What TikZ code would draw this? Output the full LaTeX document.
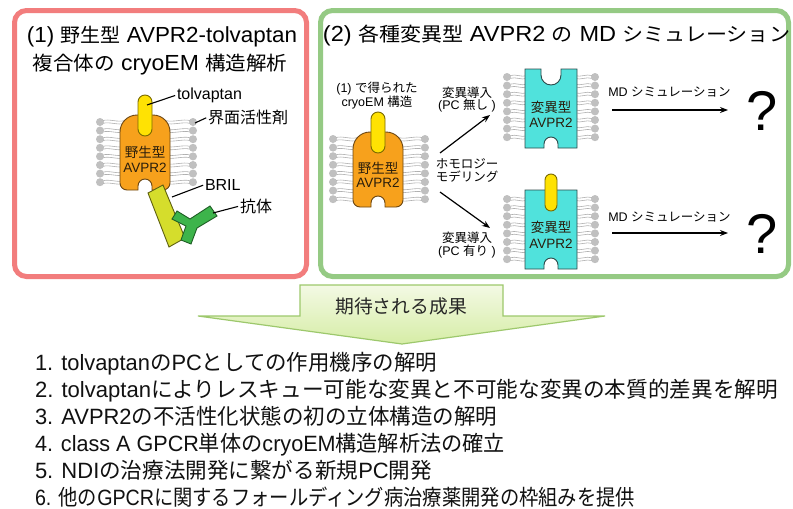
\documentclass[tikz,border=0pt]{standalone}
\usepackage{fontspec}
\usepackage{graphicx}
\setmainfont{Noto Sans CJK JP}
\newfontfamily\enN{Liberation Sans}
\newfontfamily\enT{Liberation Sans}[Scale=1.12]
\newfontfamily\enL{Liberation Sans}[Scale=1.02]
\newcommand\en[1]{{\encur #1}}
\let\encur\enN
\newcommand\fitw[2]{\resizebox{#1pt}{\height}{#2}}
\usetikzlibrary{arrows.meta}

\definecolor{boxred}{HTML}{F27D7D}
\definecolor{boxgreen}{HTML}{95CA84}
\definecolor{wtorange}{HTML}{F7A11C}
\definecolor{wtedge}{HTML}{6B4613}
\definecolor{rodyel}{HTML}{FFE203}
\definecolor{rodedge}{HTML}{7A6A00}
\definecolor{mutcyan}{HTML}{50E2DC}
\definecolor{mutedge}{HTML}{2E4A4A}
\definecolor{brilc}{HTML}{D5DD2C}
\definecolor{briledge}{HTML}{5E6010}
\definecolor{abc}{HTML}{3DB44B}
\definecolor{abedge}{HTML}{1F5F25}
\definecolor{lipidhead}{HTML}{C0C0C0}
\definecolor{lipidtail}{HTML}{B0B0B0}
\definecolor{arrtop}{HTML}{F3F9E4}
\definecolor{arrbot}{HTML}{D6EDA6}
\definecolor{arredge}{HTML}{9DC86C}
\definecolor{darklab}{HTML}{2A1E0C}
\definecolor{listtext}{HTML}{111111}

% a row set of lipids: left head x, left tail end, right tail end, right head x, first row y
\newcommand\lipidset[5]{%
  \foreach \i in {0,...,7}{%
    \pgfmathsetmacro\ly{#5+8.6*\i}%
    \draw[ltail] (#1+3,\ly-1.4) .. controls +(6,-2) and +(-6,2) .. (#2,\ly-1.4);
    \draw[ltail] (#1+3,\ly+1.4) .. controls +(6,-2) and +(-6,2) .. (#2,\ly+1.4);
    \draw[ltail] (#4-3,\ly-1.4) .. controls +(-6,-2) and +(6,2) .. (#3,\ly-1.4);
    \draw[ltail] (#4-3,\ly+1.4) .. controls +(-6,-2) and +(6,2) .. (#3,\ly+1.4);
    \fill[lhead] (#1,\ly) circle (4);
    \fill[lhead] (#4,\ly) circle (4);
  }}

% wild-type receptor body, local origin at top centre (y grows downward)
\newcommand\wtbody{%
  \draw[wt] (-8,0) arc[start angle=270,end angle=180,radius=17]
    -- (-25,68) arc[start angle=180,end angle=90,radius=7]
    -- (-7,75) -- (-7,71) arc[start angle=180,end angle=360,radius=7]
    -- (7,75) -- (18,75) arc[start angle=90,end angle=0,radius=7]
    -- (25,17) arc[start angle=0,end angle=-90,radius=17] -- cycle;
  \draw[rodst] (-7,-20) rectangle (7,21);}

% mutant receptor body with an empty pocket on top
\newcommand\mutopen{%
  \draw[mut] (-26,0) -- (-10,0) -- (-10,6) arc[start angle=180,end angle=0,radius=10]
    -- (10,0) -- (26,0) -- (26,79) -- (7,79) -- (7,75)
    arc[start angle=0,end angle=-180,radius=7] -- (-7,79) -- (-26,79) -- cycle;}

% mutant receptor body holding the chaperone
\newcommand\mutbound{%
  \draw[mut] (-26,0) -- (26,0) -- (26,79) -- (7,79) -- (7,75)
    arc[start angle=0,end angle=-180,radius=7] -- (-7,79) -- (-26,79) -- cycle;
  \draw[rodst, rounded corners=6pt] (-6,-16) rectangle (6,21);}

\begin{document}
\begin{tikzpicture}[x=1pt,y=-1pt,
  frame/.style={line width=5pt, rounded corners=12pt},
  ltail/.style={draw=lipidtail, line width=0.6pt},
  lhead/.style={fill=lipidhead},
  wt/.style={fill=wtorange, draw=wtedge, line width=0.9pt},
  rodst/.style={fill=rodyel, draw=rodedge, line width=0.9pt, rounded corners=7pt},
  mut/.style={fill=mutcyan, draw=mutedge, line width=0.9pt},
  lead/.style={line width=1.1pt, shorten >=2pt},
  flow/.style={line width=1.2pt, -{Stealth[length=8pt,width=6pt]}},
  txt/.style={inner sep=0pt, outer sep=0pt, anchor=base, text=black},
  note/.style={txt, font=\fontsize{12.5}{14}\selectfont},
  tag/.style={txt, anchor=base west, font=\fontsize{16}{19}\selectfont},
  inlab/.style={txt, font=\fontsize{13.5}{16}\selectfont, text=darklab},
  ttl/.style={txt, font=\fontsize{19.5}{23}\selectfont\let\encur\enT},
  res/.style={txt, anchor=base west, text=listtext,
    font=\fontsize{21.7}{26}\selectfont\let\encur\enL},
  qmark/.style={txt, font=\enN\fontsize{56}{60}\selectfont}]

\useasboundingbox (0,0) rectangle (793,509);
\fill[white] (0,0) rectangle (793,509);

% ---------- panel frames ----------
\draw[frame, draw=boxred] (14.5,10.5) rectangle (306.5,276.5);
\draw[frame, draw=boxgreen] (320.5,10.5) rectangle (788.5,276.5);

% ---------- panel (1) ----------
\node[ttl] (t1a) at (162,42.5) {\fitw{270}{\en{(1) }野生型\en{ AVPR2-tolvaptan}}};
\node[ttl] (t1b) at (160,70.5) {\fitw{255}{複合体の\en{ cryoEM }構造解析}};

\lipidset{100}{124}{166}{193}{122}
\begin{scope}[shift={(145,115)}] \wtbody \end{scope}
\node[inlab] (wt1a) at (145,157) {野生型};
\node[inlab] (wt1b) at (145,172) {\en{AVPR2}};

\draw[fill=brilc, draw=briledge, line width=0.9pt]
  (148,193) -- (163,185) -- (185,238) -- (169,247) -- cycle;
\draw[fill=abc, draw=abedge, line width=0.9pt]
  (172,219) -- (177,211) -- (190,219) -- (210,206) -- (217,216) -- (197,228)
  -- (191,244) -- (181,240) -- (186,226) -- cycle;

\node[tag] (tv) at (177,99) {\en{tolvaptan}};
\node[tag] (det) at (208,123) {界面活性剤};
\node[tag] (bril) at (205,190) {\en{BRIL}};
\node[tag] (ab) at (240,212) {抗体};
\coordinate (tvp) at (147,105);
\coordinate (detp) at (195,123);
\coordinate (brilp) at (172,197);
\coordinate (abp) at (213,213);
\draw[lead] (tvp) -- (tv.west);
\draw[lead] (detp) -- (det.west);
\draw[lead] (brilp) -- (bril.west);
\draw[lead] (abp) -- (ab.west);

% ---------- panel (2) ----------
\node[ttl] (t2) at (556.5,41.5)
  {\fitw{467}{\en{(2) }各種変異型\en{ AVPR2 }の\en{ MD }シミュレーション}};

\node[note] (src1) at (377,92.3) {\en{(1) }で得られた};
\node[note] (src2) at (377,106.8) {\en{cryoEM }構造};

\lipidset{333}{357}{399}{425}{139}
\begin{scope}[shift={(378,132)}] \wtbody \end{scope}
\node[inlab] (wt2a) at (378,173) {野生型};
\node[inlab] (wt2b) at (378,187) {\en{AVPR2}};

\node[note] (hm1) at (467,168.3) {ホモロジー};
\node[note] (hm2) at (467,181.3) {モデリング};
\coordinate (upS) at (440,153);
\coordinate (upE) at (490,115);
\coordinate (dnS) at (440,192);
\coordinate (dnE) at (490,228);
\draw[flow] (upS) -- (upE);
\draw[flow] (dnS) -- (dnE);
\node[note] (mA1) at (467,97.3) {変異導入};
\node[note] (mA2) at (467,109.3) {\en{(PC }無し\en{ )}};
\node[note] (mB1) at (467,242.3) {変異導入};
\node[note] (mB2) at (467,255.8) {\en{(PC }有り\en{ )}};

% mutant without chaperone
\lipidset{507}{527}{575}{595}{77}
\begin{scope}[shift={(551,69)}] \mutopen \end{scope}
\node[inlab] (muA1) at (551,112) {変異型};
\node[inlab] (muA2) at (551,127) {\en{AVPR2}};

% mutant with chaperone
\lipidset{507}{527}{575}{595}{199}
\begin{scope}[shift={(551,190)}] \mutbound \end{scope}
\node[inlab] (muB1) at (551,232) {変異型};
\node[inlab] (muB2) at (551,248) {\en{AVPR2}};

\node[note] (mdA) at (669.5,96.3) {\en{MD }シミュレーション};
\node[note] (mdB) at (669.5,221.3) {\en{MD }シミュレーション};
\coordinate (mdAs) at (612,110);
\coordinate (mdAe) at (728,110);
\coordinate (mdBs) at (612,233);
\coordinate (mdBe) at (728,233);
\draw[flow] (mdAs) -- (mdAe);
\draw[flow] (mdBs) -- (mdBe);
\node[qmark] (qA) at (762,130) {?};
\node[qmark] (qB) at (762,253) {?};

% ---------- outcome arrow ----------
\path[top color=arrtop, bottom color=arrbot, draw=arredge, line width=1.2pt]
  (300,285) -- (503,285) -- (503,316) -- (605,316) -- (402,344)
  -- (198,316) -- (300,316) -- cycle;
\node[txt, font=\fontsize{18.8}{22}\selectfont, text=black!85] (exp) at (401,313.5) {期待される成果};

% ---------- outcome list ----------
\node[res] (r1) at (35,370) {\fitw{402}{\en{1. tolvaptan}の\en{PC}としての作用機序の解明}};
\node[res] (r2) at (35,397) {\fitw{743}{\en{2. tolvaptan}によりレスキュー可能な変異と不可能な変異の本質的差異を解明}};
\node[res] (r3) at (35,424) {\fitw{462}{\en{3. AVPR2}の不活性化状態の初の立体構造の解明}};
\node[res] (r4) at (35,451) {\fitw{470}{\en{4. class A GPCR}単体の\en{cryoEM}構造解析法の確立}};
\node[res] (r5) at (35,478) {\fitw{397}{\en{5. NDI}の治療法開発に繋がる新規\en{PC}開発}};
\node[res] (r6) at (35,505) {\fitw{600}{\en{6. }他の\en{GPCR}に関するフォールディング病治療薬開発の枠組みを提供}};
\end{tikzpicture}
\end{document}
